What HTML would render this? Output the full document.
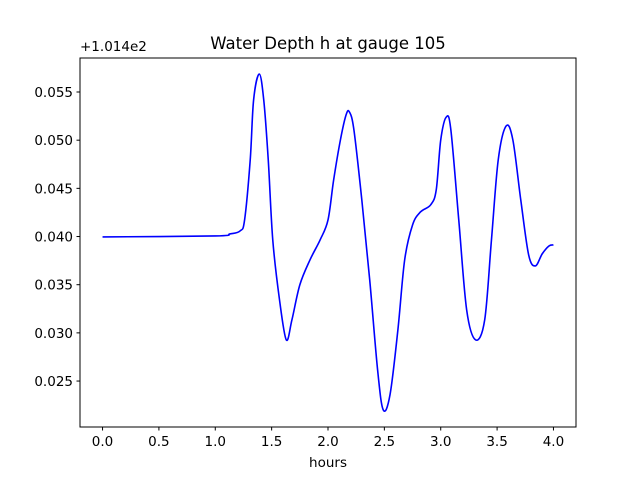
<!DOCTYPE html>
<html><head><meta charset="utf-8"><style>
body{margin:0;background:#fff}
svg{display:block;font-family:"DejaVu Sans","Liberation Sans",sans-serif}
</style></head><body>
<svg id="chart" width="640" height="480">
<rect width="640" height="480" fill="#fff"/>
<text x="328" y="49" font-size="16.5" text-anchor="middle">Water Depth h at gauge 105</text>
<text x="80" y="51" font-size="13.5">+1.014e2</text>
<text x="328" y="467" font-size="13.5" text-anchor="middle">hours</text>
<g id="ticks"></g>
<path id="line" fill="none" stroke="#0000ff" stroke-width="1.6"/>
<rect x="80" y="58" width="496" height="369" fill="none" stroke="#000" stroke-width="1"/>
</svg>
<script>
const hours=[0,1.0,1.13,1.22,1.26,1.31,1.34,1.39,1.43,1.47,1.51,1.57,1.63,1.68,1.75,1.84,1.93,2.0,2.05,2.11,2.16,2.19,2.23,2.30,2.37,2.44,2.49,2.55,2.62,2.68,2.75,2.82,2.91,2.96,3.0,3.05,3.09,3.16,3.23,3.31,3.39,3.45,3.51,3.58,3.64,3.71,3.78,3.84,3.90,3.96,4.0];
const depth=[0.03996,0.04006,0.04027,0.04058,0.04172,0.04795,0.05417,0.05687,0.05417,0.04795,0.03965,0.03342,0.02927,0.03135,0.03498,0.03757,0.03965,0.04172,0.04587,0.05002,0.05261,0.05293,0.05106,0.04380,0.03550,0.02616,0.02201,0.02357,0.03031,0.03757,0.04120,0.04255,0.04328,0.04483,0.05002,0.05241,0.05106,0.04172,0.03239,0.02927,0.03135,0.03965,0.04795,0.05147,0.05002,0.04380,0.03809,0.03695,0.03820,0.03902,0.03913];
const xTicks=[0,0.5,1.0,1.5,2.0,2.5,3.0,3.5,4.0];
const yTicks=[0.025,0.030,0.035,0.040,0.045,0.050,0.055];
const X=v=>80+(v+0.2)*496/4.4;
const Y=v=>427-(v-0.02023)*(369/(0.05853-0.02023));
const NS="http://www.w3.org/2000/svg";
const g=document.getElementById('ticks');
function mk(t,a){const e=document.createElementNS(NS,t);for(const k in a)e.setAttribute(k,a[k]);g.appendChild(e);return e;}
xTicks.forEach(v=>{
 const l=mk('line',{x1:X(v),x2:X(v),y1:427,y2:430.5,stroke:'#000'});
 
 
 const t=mk('text',{x:X(v),y:446,'font-size':13.5,'text-anchor':'middle'});
 t.textContent=v.toFixed(1);
 
 
});
yTicks.forEach(v=>{
 const l=mk('line',{x1:76.5,x2:80,y1:Y(v),y2:Y(v),stroke:'#000'});
 
 
 const t=mk('text',{x:73,y:Y(v)+5,'font-size':13.5,'text-anchor':'end'});
 t.textContent=v.toFixed(3);
 
 
});
const P=hours.map((h,i)=>[X(h),Y(depth[i])]);
let d='M'+P[0][0]+','+P[0][1];
for(let i=0;i<P.length-1;i++){
 const p0=P[Math.max(0,i-1)],p1=P[i],p2=P[i+1],p3=P[Math.min(P.length-1,i+2)];
 const c1=[p1[0]+(p2[0]-p0[0])/6,p1[1]+(p2[1]-p0[1])/6];
 const c2=[p2[0]-(p3[0]-p1[0])/6,p2[1]-(p3[1]-p1[1])/6];
 d+=' C'+c1+' '+c2+' '+p2;
}
document.getElementById('line').setAttribute('d',d);
</script>
</body></html>
